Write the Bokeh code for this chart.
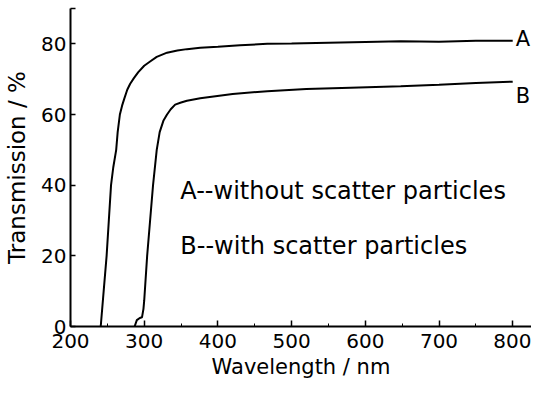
from bokeh.plotting import figure
from bokeh.models import Range1d, SingleIntervalTicker, FixedTicker, Label
from bokeh.embed import file_html
from bokeh.resources import INLINE

# Curve A: without scatter particles
wl_a = [241, 245, 249, 252, 255, 258, 262, 264, 267, 270, 273, 277, 281, 286,
        292, 300, 308, 317, 331, 345, 358, 376, 400, 430, 467, 500, 550, 600,
        648, 700, 750, 800]
tr_a = [0, 10, 20, 30, 40, 45, 50, 55, 60, 62.5, 64.5, 67, 68.7, 70.3,
        72, 73.8, 75, 76.3, 77.5, 78.1, 78.5, 78.9, 79.2, 79.6, 80.0, 80.1,
        80.3, 80.5, 80.7, 80.6, 80.9, 80.9]

# Curve B: with scatter particles
wl_b = [287, 290, 294, 297, 299, 300, 304, 308, 312, 317, 321, 326, 331, 336,
        342, 350, 358, 376, 420, 467, 520, 580, 648, 700, 750, 800]
tr_b = [0, 1.8, 2.4, 2.6, 5, 7.3, 20, 30, 40, 50, 55, 58.2, 60, 61.5,
        62.8, 63.4, 63.9, 64.6, 65.8, 66.6, 67.2, 67.6, 68.0, 68.4, 68.9, 69.3]

x_ticks_interval = 100
y_ticks = [0, 20, 40, 60, 80, 90]

FONT = "DejaVu Sans"

p = figure(width=531, height=381, output_backend="svg", toolbar_location=None,
           x_range=Range1d(200, 825.5), y_range=Range1d(0, 90),
           min_border_left=70, min_border_right=0, min_border_top=8,
           min_border_bottom=55)
p.outline_line_color = None
p.grid.visible = False
p.background_fill_color = "white"
p.border_fill_color = "white"

p.line(wl_a, tr_a, line_color="black", line_width=2)
p.line(wl_b, tr_b, line_color="black", line_width=2)

xa = p.xaxis[0]
xa.ticker = SingleIntervalTicker(interval=x_ticks_interval, num_minor_ticks=2)
xa.major_tick_in = 6
xa.major_tick_out = 0
xa.minor_tick_in = 3
xa.minor_tick_out = 0
xa.axis_line_width = 2
xa.major_tick_line_width = 1.5
xa.major_label_text_font = FONT
xa.major_label_text_font_size = "20px"
xa.major_label_text_color = "black"
xa.major_label_standoff = 7
xa.axis_label = "Wavelength / nm"
xa.axis_label_text_font = FONT
xa.axis_label_text_font_size = "21px"
xa.axis_label_text_font_style = "normal"
xa.axis_label_text_color = "black"
xa.axis_label_standoff = 4

ya = p.yaxis[0]
ya.ticker = FixedTicker(ticks=y_ticks)
ya.major_label_overrides = {90: ""}
ya.major_tick_in = 5
ya.major_tick_out = 0
ya.minor_tick_line_color = None
ya.axis_line_width = 2
ya.major_tick_line_width = 1.5
ya.major_label_text_font = FONT
ya.major_label_text_font_size = "20px"
ya.major_label_text_color = "black"
ya.major_label_standoff = 4
ya.axis_label = "Transmission / %"
ya.axis_label_text_font = FONT
ya.axis_label_text_font_size = "23px"
ya.axis_label_text_font_style = "normal"
ya.axis_label_text_color = "black"
ya.axis_label_standoff = 8

def add_text(x, y, t, size):
    p.add_layout(Label(x=x, y=y, text=t, text_font=FONT, text_font_size=size,
                       text_color="black", text_baseline="alphabetic",
                       text_align="left"))

# annotations
add_text(349, 38.4, "A--without scatter particles", "24px")
add_text(349, 22.9, "B--with scatter particles", "24px")
add_text(804, 81.4, "A", "21px")
add_text(804, 65.3, "B", "21px")

open("out.html", "w").write(file_html(p, INLINE))
